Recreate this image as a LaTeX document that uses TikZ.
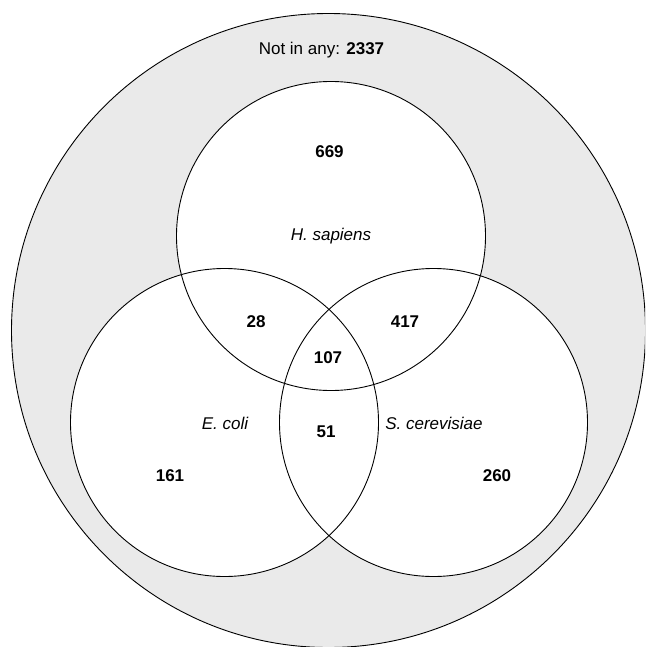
\documentclass[tikz,border=0pt]{standalone}
\usepackage{fontspec}
\setmainfont{Liberation Sans}
\definecolor{outergray}{HTML}{EAEAEA}
\tikzset{
  setcircle/.style={circle, inner sep=0pt, outer sep=0pt, minimum size=#1},
  ring/.style={line width=0.9pt, draw=black},
  countlbl/.style={font=\fontsize{17}{20}\selectfont\bfseries, inner sep=0pt},
  namelbl/.style={font=\fontsize{17}{20}\selectfont\itshape, inner sep=0pt},
  toplbl/.style={font=\fontsize{17}{20}\selectfont, inner sep=0pt}
}
\begin{document}
\begin{tikzpicture}[x=1pt,y=-1pt]
\useasboundingbox (0,0) rectangle (645,647);
\clip (0,0) rectangle (645,647);
% universe
\node[setcircle=634pt, fill=outergray, ring] (U) at (328.5,330.5) {};
% white fills
\node[setcircle=309pt, fill=white] (Hf) at (331,236) {};
\node[setcircle=308pt, fill=white] (Ef) at (224.5,422.5) {};
\node[setcircle=308pt, fill=white] (Sf) at (433.5,422.5) {};
% outlines
\node[setcircle=309pt, ring] (H) at (331,236) {};
\node[setcircle=308pt, ring] (E) at (224.5,422.5) {};
\node[setcircle=308pt, ring] (S) at (433.5,422.5) {};
% labels
\node[toplbl] (none) at (321.5,50) {Not in any: \textbf{2337}};
\node[countlbl] (n669) at (329.5,152) {669};
\node[namelbl] (hs) at (331,236) {H. sapiens};
\node[countlbl] (n28) at (256,322) {28};
\node[countlbl] (n417) at (405,322) {417};
\node[countlbl] (n107) at (328,358) {107};
\node[namelbl] (ec) at (225,423) {E. coli};
\node[countlbl] (n51) at (326,432) {51};
\node[namelbl] (sc) at (434,423) {S. cerevisiae};
\node[countlbl] (n161) at (170,476) {161};
\node[countlbl] (n260) at (497,476) {260};
\end{tikzpicture}
\end{document}
